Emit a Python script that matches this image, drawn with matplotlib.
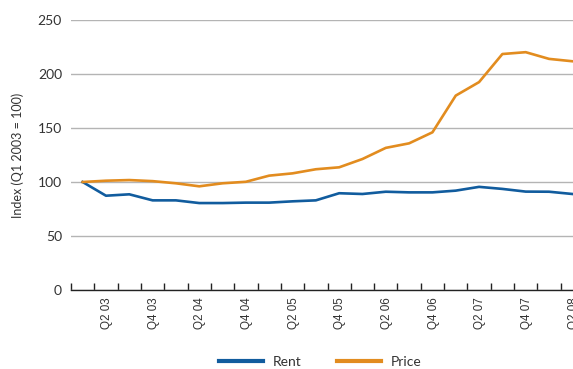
import numpy as np
import matplotlib
matplotlib.use("Agg")
import matplotlib.pyplot as plt

quarters = ["Q1 03", "Q2 03", "Q3 03", "Q4 03", "Q1 04", "Q2 04", "Q3 04", "Q4 04",
            "Q1 05", "Q2 05", "Q3 05", "Q4 05", "Q1 06", "Q2 06", "Q3 06", "Q4 06",
            "Q1 07", "Q2 07", "Q3 07", "Q4 07", "Q1 08", "Q2 08"]
rent = [100, 87.3, 88.6, 83, 83, 80.5, 80.5, 80.9, 80.9, 82.1, 83, 89.6,
        88.9, 91, 90.4, 90.4, 92, 95.5, 93.6, 91.1, 91, 88.9]
price = [100, 101.2, 101.8, 100.8, 98.8, 96, 98.8, 100.2, 105.9, 108, 111.8, 113.6,
         121.3, 131.6, 135.8, 146, 180, 192.5, 218.5, 220.2, 214, 211.8]

rent_color = "#115c9e"
price_color = "#e28c1f"
text_color = "#333333"

fig = plt.figure(figsize=(5.73, 3.69), dpi=100)
# axes run a little past the right edge, as in the original
ax = fig.add_axes([71 / 573, 79 / 369, 513 / 573, 270 / 369])

x = np.arange(len(quarters))
ax.plot(x, rent, color=rent_color, lw=1.9, label="Rent", solid_joinstyle="round")
ax.plot(x, price, color=price_color, lw=1.9, label="Price", solid_joinstyle="round")

ax.set_xlim(-0.5, len(quarters) - 0.5)
ax.set_ylim(0, 250)
ax.set_yticks([0, 50, 100, 150, 200, 250])
ax.yaxis.grid(True, color="#b4b4b4", lw=1.0)
ax.set_axisbelow(True)

for s in ["top", "right", "left"]:
    ax.spines[s].set_visible(False)
ax.spines["bottom"].set_color("#222222")
ax.spines["bottom"].set_linewidth(1.0)

# category boundaries as small upward ticks, labels on every other quarter
ax.set_xticks(np.arange(-0.5, len(quarters), 1.0), minor=True)
ax.tick_params(axis="x", which="minor", direction="in", length=5, width=1, color="#222222")
lab_idx = np.arange(1, len(quarters), 2)
ax.set_xticks(lab_idx + 0.05)
ax.set_xticklabels([quarters[i] for i in lab_idx], rotation=90, ha="center", va="top",
                   family="Liberation Sans", fontsize=8.4, color=text_color)
ax.tick_params(axis="x", which="major", length=0, pad=5)

ax.tick_params(axis="y", length=0, pad=6.5, labelsize=10, labelcolor=text_color)
for t in ax.get_yticklabels():
    t.set_family("Lato")

ax.set_ylabel("Index (Q1 2003 = 100)", family="Lato", fontsize=9, color=text_color)
ax.yaxis.set_label_coords(-47 / 513, 0.5)

leg = fig.legend(loc="center", bbox_to_anchor=(0.559, 0.02), ncol=2, frameon=False,
                 handlelength=3.2, columnspacing=2.5, handletextpad=0.72,
                 prop={"family": "Lato", "size": 10})
for h in leg.get_lines():
    h.set_linewidth(3)
for t in leg.get_texts():
    t.set_color(text_color)

fig.savefig("out.png", dpi=100)
